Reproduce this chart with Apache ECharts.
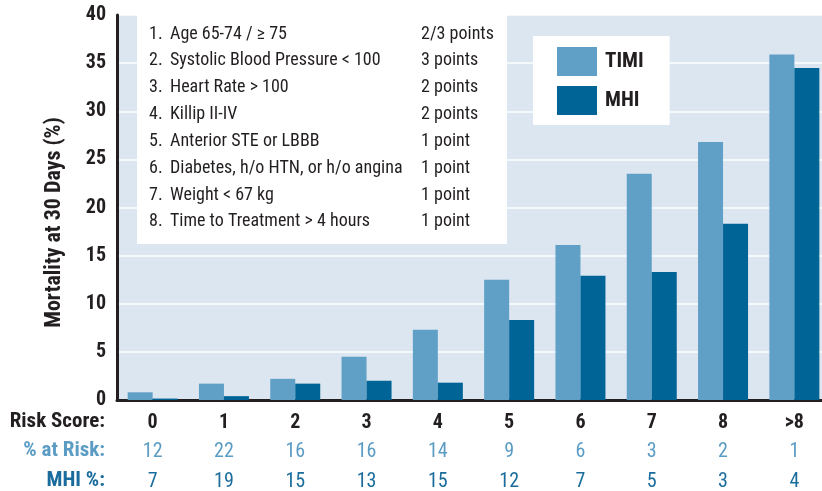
<!DOCTYPE html>
<html>
<head>
<meta charset="utf-8">
<script src="https://cdn.jsdelivr.net/npm/echarts@6/dist/echarts.min.js"></script>
<style>html,body{margin:0;padding:0;background:#fff}#c{width:822px;height:491px}</style>
</head>
<body>
<div id="c"></div>
<script>
const categories = ['0', '1', '2', '3', '4', '5', '6', '7', '8', '>8'];
const timiValues = [0.8, 1.7, 2.2, 4.5, 7.3, 12.5, 16.1, 23.5, 26.8, 35.9];
const mhiValues = [0.15, 0.4, 1.7, 2.0, 1.8, 8.3, 12.9, 13.3, 18.3, 34.5];
const pctAtRisk = [12, 22, 16, 16, 14, 9, 6, 3, 2, 1];
const mhiPct = [7, 19, 15, 13, 15, 12, 7, 5, 3, 4];
const rowLabels = ['Risk Score:', '% at Risk:', 'MHI %:'];
const factorNumbers = ['1.', '2.', '3.', '4.', '5.', '6.', '7.', '8.'];
const riskFactors = ['Age 65-74 / \u2265 75', 'Systolic Blood Pressure < 100', 'Heart Rate > 100', 'Killip II-IV',
  'Anterior STE or LBBB', 'Diabetes, h/o HTN, or h/o angina', 'Weight < 67 kg', 'Time to Treatment > 4 hours'];
const riskPoints = ['2/3 points', '3 points', '2 points', '2 points', '1 point', '1 point', '1 point', '1 point'];
const yTitle = 'Mortality at 30 Days (%)';

const FONT = "'Liberation Sans Narrow', 'Roboto Condensed', 'DejaVu Sans Condensed', sans-serif";
const BLACK = '#231f20';
const LIGHT = '#61a0c6';
const DARK = '#006496';
const LIGHT_TXT = '#5b9cc4';
const DARK_TXT = '#1a6c9c';

const graphics = [];
graphics.push({ type: 'rect', shape: { x: 137, y: 15, width: 370, height: 229 }, style: { fill: '#ffffff' }, z: 5 });
for (let i = 0; i < riskFactors.length; i++) {
  const y = 33 + i * 26.85;
  const st = { fontFamily: FONT, fontSize: 18, fill: '#231f20' };
  graphics.push({ type: 'text', left: 149, top: y - 8, z: 6, style: Object.assign({ text: factorNumbers[i] }, st) });
  graphics.push({ type: 'text', left: 170, top: y - 8, z: 6, style: Object.assign({ text: riskFactors[i] }, st) });
  graphics.push({ type: 'text', left: 421, top: y - 8, z: 6, style: Object.assign({ text: riskPoints[i] }, st) });
}
const rowColors = [BLACK, LIGHT_TXT, DARK_TXT];
for (let r = 0; r < rowLabels.length; r++) {
  graphics.push({ type: 'text', right: 822 - 105, top: 411 + r * 29.5, z: 6,
    style: { text: rowLabels[r], fontFamily: FONT, fontSize: 21, fontWeight: 'bold', fill: rowColors[r] } });
}

const chart = echarts.init(document.getElementById('c'));
chart.setOption({
  animation: false,
  backgroundColor: '#ffffff',
  grid: { left: 117, top: 15, width: 713, height: 385, show: true, backgroundColor: '#dbe6f0', borderWidth: 0,
    outerBoundsMode: 'none', containLabel: false },
  legend: {
    data: ['TIMI', 'MHI'], orient: 'vertical', left: 533, top: 36,
    backgroundColor: '#ffffff', padding: [11, 26, 10, 24],
    itemWidth: 40, itemHeight: 29, itemGap: 10, icon: 'rect',
    textStyle: { fontFamily: FONT, fontSize: 21, fontWeight: 'bold', color: BLACK, padding: [0, 0, 0, 3] }
  },
  xAxis: {
    type: 'category', data: categories,
    axisLine: { lineStyle: { color: BLACK, width: 3 } },
    axisTick: { show: false },
    axisLabel: {
      margin: 8, interval: 0,
      formatter: function (v, i) { return '{a|' + v + '}\n{b|' + pctAtRisk[i] + '}\n{c|' + mhiPct[i] + '}'; },
      rich: {
        a: { fontFamily: FONT, fontSize: 20, fontWeight: 'bold', color: BLACK, lineHeight: 29.5 },
        b: { fontFamily: FONT, fontSize: 20, color: LIGHT_TXT, lineHeight: 29.5 },
        c: { fontFamily: FONT, fontSize: 20, color: DARK_TXT, lineHeight: 29.5 }
      }
    }
  },
  yAxis: {
    type: 'value', min: 0, max: 40, interval: 5,
    name: yTitle, nameLocation: 'middle', nameGap: 52, nameRotate: 90,
    nameTextStyle: { fontFamily: FONT, fontSize: 22, fontWeight: 'bold', color: BLACK, padding: [0, 30, 0, 0] },
    axisLine: { show: true, lineStyle: { color: BLACK, width: 3 } },
    axisTick: { show: false },
    splitLine: { lineStyle: { color: '#ffffff', width: 1.5 } },
    axisLabel: { fontFamily: FONT, fontSize: 20, fontWeight: 'bold', color: BLACK, margin: 11, padding: [10, 0, 0, 0] }
  },
  series: [
    { name: 'TIMI', type: 'bar', data: timiValues, barWidth: 25, barGap: '0%', itemStyle: { color: LIGHT } },
    { name: 'MHI', type: 'bar', data: mhiValues, barWidth: 25, barGap: '0%', itemStyle: { color: DARK } }
  ],
  graphic: graphics
});
</script>
</body>
</html>
